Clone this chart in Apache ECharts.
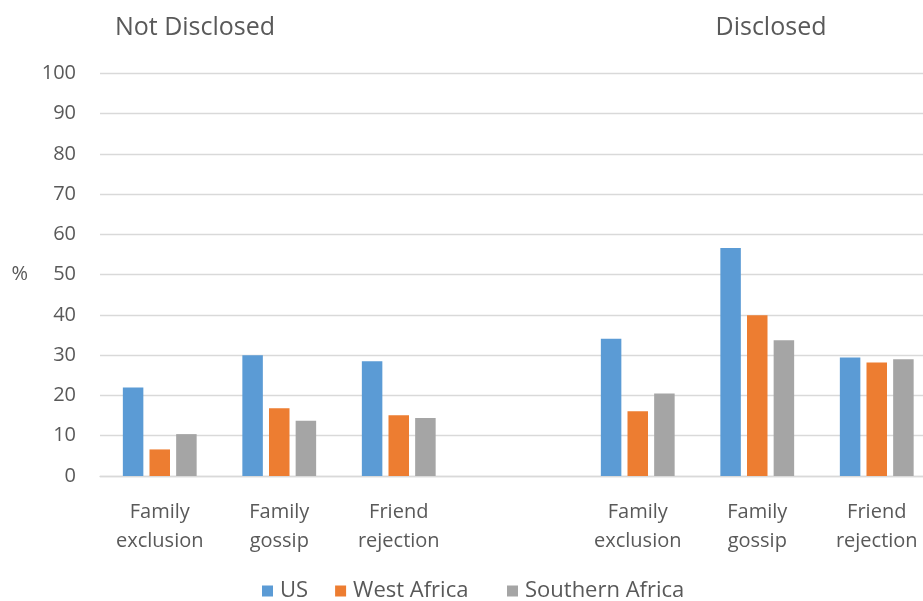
<!DOCTYPE html>
<html>
<head>
<meta charset="utf-8">
<script src="https://cdn.jsdelivr.net/npm/echarts@6/dist/echarts.min.js"></script>
<style>
html,body{margin:0;padding:0;background:#fff;}
#chart{width:923px;height:601px;}
</style>
</head>
<body>
<div id="chart"></div>
<script>
var categories = ['Family\nexclusion', 'Family\ngossip', 'Friend\nrejection', '', 'Family\nexclusion', 'Family\ngossip', 'Friend\nrejection'];
var groupTitles = ['Not Disclosed', 'Disclosed'];
var seriesNames = ['US', 'West Africa', 'Southern Africa'];
var usValues = [22, 30, 28.5, null, 34.1, 56.6, 29.4];
var westAfricaValues = [6.6, 16.8, 15.1, null, 16.1, 39.9, 28.2];
var southernAfricaValues = [10.4, 13.7, 14.4, null, 20.5, 33.7, 29.0];
var yTicks = { min: 0, max: 100, interval: 10 };

var colors = ['#5B9BD5', '#ED7D31', '#A5A5A5'];
var FONT = 'Open Sans';
var TXT = '#595959';

var chart = echarts.init(document.getElementById('chart'));
var values = [usValues, westAfricaValues, southernAfricaValues];

function legendAt(names, left) {
  return {
    data: names,
    left: left,
    top: 580,
    padding: 0,
    itemWidth: 11,
    itemHeight: 11,
    itemGap: 27,
    icon: 'rect',
    textStyle: { fontFamily: FONT, fontSize: 22, color: TXT, padding: [0, 0, 0, 2] }
  };
}

chart.setOption({
  animation: false,
  textStyle: { fontFamily: FONT },
  graphic: [
    { type: 'text', x: 195, y: 28, style: { text: groupTitles[0], fontFamily: FONT, fontSize: 25, fill: TXT, align: 'center', verticalAlign: 'middle' } },
    { type: 'text', x: 771, y: 28, style: { text: groupTitles[1], fontFamily: FONT, fontSize: 25, fill: TXT, align: 'center', verticalAlign: 'middle' } }
  ],
  legend: [
    legendAt(seriesNames.slice(0, 2), 262),
    legendAt(seriesNames.slice(2), 507)
  ],
  grid: { left: 100, top: 73.3, width: 836.5, height: 402.7, containLabel: false, outerBoundsMode: 'none' },
  xAxis: {
    type: 'category',
    data: categories,
    axisLine: { lineStyle: { color: '#D9D9D9', width: 1.3 } },
    axisTick: { show: false },
    axisLabel: { fontFamily: FONT, fontSize: 20, color: TXT, lineHeight: 29, margin: 22, interval: 0 }
  },
  yAxis: {
    type: 'value',
    min: yTicks.min,
    max: yTicks.max,
    interval: yTicks.interval,
    name: '%',
    nameLocation: 'middle',
    nameRotate: 0,
    nameGap: 72,
    nameTextStyle: { fontFamily: FONT, fontSize: 20, color: TXT },
    axisLine: { show: false },
    axisTick: { show: false },
    axisLabel: { fontFamily: FONT, fontSize: 20, color: TXT, margin: 24 },
    splitLine: { lineStyle: { color: '#D9D9D9', width: 1.3 } }
  },
  series: seriesNames.map(function (name, i) {
    return {
      name: name,
      type: 'bar',
      data: values[i],
      barWidth: 20.5,
      barGap: '30%',
      itemStyle: { color: colors[i] }
    };
  })
});
</script>
</body>
</html>
